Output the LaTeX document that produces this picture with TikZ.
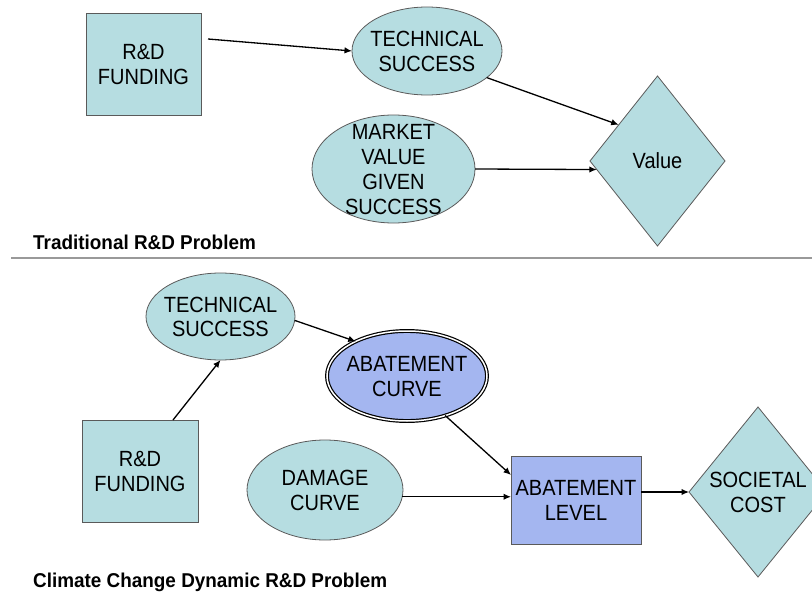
\documentclass[tikz,border=0pt]{standalone}
\usepackage{fontspec}
\usepackage{graphicx}
\setmainfont{Liberation Sans}
\usetikzlibrary{shapes.geometric,arrows.meta}
\definecolor{teal1}{HTML}{B6DDE1}
\definecolor{peri}{HTML}{A4B6F0}
\definecolor{edge}{HTML}{5A5A5A}
\newcommand{\tx}[1]{\scalebox{1}[1.1]{\begin{tabular}{@{}c@{}}#1\end{tabular}}}
\newcommand{\ttl}[1]{\scalebox{0.945}[1]{\bfseries #1}}
\tikzset{
  base/.style={draw=edge, line width=0.8pt, inner sep=0pt, outer sep=0pt},
  boxnode/.style={base, rectangle, fill=teal1},
  ovalnode/.style={base, ellipse, fill=teal1},
  diamnode/.style={base, diamond, fill=teal1},
  inner/.style={inner sep=0pt, yshift=-3pt, font=\fontsize{20}{22.5}\selectfont},
  conn/.style={draw=black, line width=1.3pt, -{Latex[length=7.5pt,width=6.5pt]}},
  titletext/.style={anchor=west, inner sep=0pt, font=\fontsize{20}{24}\selectfont}
}
\begin{document}
\begin{tikzpicture}[x=1pt,y=-1pt]
\useasboundingbox (0,0) rectangle (812,594);
\clip (0,0) rectangle (812,594);
\fill[white] (0,0) rectangle (812,594);

% ---------- Traditional R&D Problem ----------
\node[boxnode, minimum width=115pt, minimum height=102pt] (rd1) at (143.5,64) {};
\node[inner] (rd1t) at (rd1.center) {\tx{R\&D\\FUNDING}};
\node[ovalnode, minimum width=150pt, minimum height=88pt] (ts1) at (427,51) {};
\node[inner] (ts1t) at (ts1.center) {\tx{TECHNICAL\\SUCCESS}};
\node[ovalnode, minimum width=163pt, minimum height=108pt] (mv) at (393.5,169) {};
\node[inner] (mvt) at (mv.center) {\tx{MARKET\\VALUE\\GIVEN\\SUCCESS}};
\node[diamnode, minimum width=135pt, minimum height=170pt] (val) at (657.5,161) {};
\node[inner] (valt) at (val.center) {\tx{Value}};

\draw[conn] ([xshift=7pt,yshift=25pt]rd1.east) -- (ts1.west);
\draw[conn] (ts1.-24) -- (val.137);
\draw[conn] (mv.east) -- (val.188);

\node[titletext] (t1) at (33,242) {\ttl{Traditional R\&D Problem}};

\coordinate (sepL) at (11,258);
\coordinate (sepR) at (812,258);
\draw[draw=black!40, line width=1.6pt] (sepL) -- (sepR);

% ---------- Climate Change Dynamic R&D Problem ----------
\node[ovalnode, minimum width=149pt, minimum height=87pt] (ts2) at (220.5,316.5) {};
\node[inner] (ts2t) at (ts2.center) {\tx{TECHNICAL\\SUCCESS}};
\node[boxnode, minimum width=116pt, minimum height=102pt] (rd2) at (140,471) {};
\node[inner] (rd2t) at (rd2.center) {\tx{R\&D\\FUNDING}};
\node[ovalnode, minimum width=156pt, minimum height=100pt] (dc) at (325,490) {};
\node[inner] (dct) at (dc.center) {\tx{DAMAGE\\CURVE}};
\node[base, ellipse, fill=peri, draw=black, line width=1.2pt, double=white, double distance=1.5pt,
      minimum width=160pt, minimum height=90pt] (ac) at (407,376) {};
\node[inner] (act) at (ac.center) {\tx{ABATEMENT\\CURVE}};
\node[boxnode, fill=peri, minimum width=130pt, minimum height=88pt] (al) at (576,500) {};
\node[inner] (alt) at (al.center) {\tx{ABATEMENT\\LEVEL}};
\node[diamnode, minimum width=138pt, minimum height=170pt] (sc) at (758,492) {};
\node[inner] (sct) at (sc.center) {\tx{SOCIETAL\\COST}};

\draw[conn] ([xshift=33pt]rd2.north) -- (ts2.south);
\draw[conn] (ts2.-3) -- (ac.146);
\draw[conn] (ac.-46) -- ([yshift=-19pt]al.north west);
\draw[conn] (dc.-5) -- (dc.-5 -| al.west);
\draw[conn] ([yshift=8pt]al.east) -- (sc.west);

\node[titletext] (t2) at (33,582) {\ttl{Climate Change Dynamic R\&D Problem}};
\end{tikzpicture}
\end{document}
